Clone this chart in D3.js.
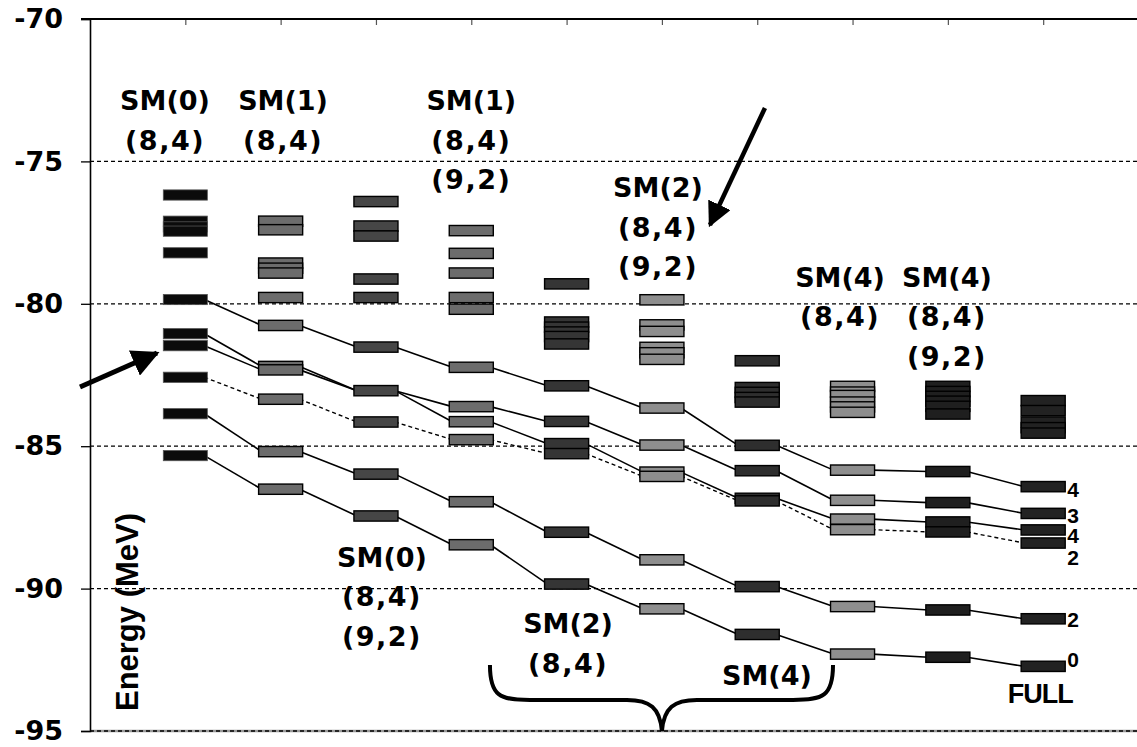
<!DOCTYPE html>
<html><head><meta charset="utf-8">
<script src="https://cdn.jsdelivr.net/npm/d3@7"></script>
<style>
html,body{margin:0;padding:0;background:#fff;}
svg text{font-family:"DejaVu Sans",sans-serif;font-weight:bold;fill:#000;}
</style></head>
<body>
<script>
// ---------- data ----------
const columns = ["SM(0) (8,4)","SM(1) (8,4)","SM(0) (8,4)(9,2)","SM(1) (8,4)(9,2)","SM(2) (8,4)","SM(2) (8,4)(9,2)","SM(4) (8,4)","SM(4) (8,4)","SM(4) (8,4)(9,2)","FULL"];
const levels0 = [-76.18,-77.1,-77.3,-77.45,-78.21,-79.85,-81.05,-81.47,-82.58,-83.86,-85.33];
const levels1 = [-77.1,-77.4,-78.57,-78.75,-78.92,-79.78,-80.76,-82.2,-82.32,-83.35,-85.19,-86.51];
const levels2 = [-76.41,-77.27,-77.62,-79.13,-79.78,-81.52,-83.05,-84.15,-85.98,-87.45];
const levels3 = [-77.43,-78.23,-78.92,-79.78,-80.19,-82.23,-83.61,-84.14,-84.77,-86.95,-88.46];
const levels4 = [-79.3,-80.64,-80.82,-80.99,-81.15,-81.41,-82.88,-84.13,-84.91,-85.26,-88.02,-89.84];
const levels5 = [-79.86,-80.74,-80.97,-81.53,-81.72,-81.95,-83.66,-84.96,-85.91,-86.06,-88.99,-90.71];
const levels6 = [-82.0,-82.94,-83.11,-83.29,-83.45,-84.97,-85.86,-86.83,-86.92,-89.93,-91.61];
const levels7 = [-82.9,-83.1,-83.22,-83.45,-83.62,-83.81,-85.84,-86.9,-87.56,-87.93,-90.63,-92.3];
const levels8 = [-82.9,-83.08,-83.25,-83.42,-83.6,-83.87,-85.89,-86.98,-87.66,-88.01,-90.75,-92.41];
const levels9 = [-83.4,-83.75,-84.15,-84.35,-84.54,-86.42,-87.36,-87.94,-88.4,-91.06,-92.73];
const columnLevels = [levels0,levels1,levels2,levels3,levels4,levels5,levels6,levels7,levels8,levels9];

// correlated states followed across the truncations (one value per column)
const chain4a = [-79.85,-80.76,-81.52,-82.23,-82.88,-83.66,-84.97,-85.84,-85.89,-86.42];
const chain3  = [-81.05,-82.2,-83.05,-83.61,-84.13,-84.96,-85.86,-86.9,-86.98,-87.36];
const chain4b = [-81.47,-82.32,-83.05,-84.14,-84.91,-85.91,-86.83,-87.56,-87.66,-87.94];
const chain2b = [-82.58,-83.35,-84.15,-84.77,-85.26,-86.06,-86.92,-87.93,-88.01,-88.4];
const chain2a = [-83.86,-85.19,-85.98,-86.95,-88.02,-88.99,-89.93,-90.63,-90.75,-91.06];
const chain0  = [-85.33,-86.51,-87.45,-88.46,-89.84,-90.71,-91.61,-92.3,-92.41,-92.73];
const solidChains = [chain4a,chain3,chain4b,chain2a,chain0];
const dashedChains = [chain2b];

const spinLabels = ["4","3","4","2","2","0"];
const spinLabelE = [-86.78,-87.70,-88.40,-89.17,-91.35,-92.75];

const yTicks = [-70,-75,-80,-85,-90,-95];
const xTicks = [1,2,3,4,5,6,7,8,9,10];

// text annotations: [x (column units), energy of first baseline, lines]
const annotations = [
  [0.787,-73.2,["SM(0)","(8,4)"]],
  [2.025,-73.2,["SM(1)","(8,4)"]],
  [4.0,-73.2,["SM(1)","(8,4)","(9,2)"]],
  [5.959,-76.25,["SM(2)","(8,4)","(9,2)"]],
  [7.869,-79.41,["SM(4)","(8,4)"]],
  [8.99,-79.41,["SM(4)","(8,4)","(9,2)"]],
  [3.063,-89.24,["SM(0)","(8,4)","(9,2)"]],
  [5.015,-91.56,["SM(2)","(8,4)"]],
  [7.102,-93.385,["SM(4)"]],
];
const fullLabel = [9.969,-94.02,"FULL"];
const arrows = [ [[-0.105,-82.92],[0.703,-81.73]], [[7.081,-73.125],[6.504,-77.233]] ];
const brace = {x0:4.196, x1:7.795, xm:6.0, eTop:-92.68, eBar:-93.91, eTip:-95};

// ---------- styles ----------
const fills = ["#0b0b0b","#6c6c6c","#464646","#6c6c6c","#353535","#8e8e8e","#2e2e2e","#8e8e8e","#1f1f1f","#222222"];
const W = 1137, H = 747;
const barW = 0.462, barH = 0.36;

const svg = d3.select("body").append("svg").attr("width",W).attr("height",H);
const x = d3.scaleLinear().domain([0,11]).range([90,1138.5]);
const y = d3.scaleLinear().domain([-95,-70]).range([731,19]);

// gridlines
svg.append("g").selectAll("line").data([-75,-80,-85,-90]).join("line")
  .attr("x1",x(0)).attr("x2",W).attr("y1",d=>y(d)).attr("y2",d=>y(d))
  .attr("stroke","#000").attr("stroke-width",1.3).attr("stroke-dasharray","4,3");
// bottom line
svg.append("line").attr("x1",x(0)).attr("x2",W).attr("y1",y(-95)).attr("y2",y(-95))
  .attr("stroke","#999").attr("stroke-width",2.5);
svg.append("line").attr("x1",x(0)).attr("x2",W).attr("y1",y(-95)).attr("y2",y(-95))
  .attr("stroke","#000").attr("stroke-width",1.3).attr("stroke-dasharray","4,3");

// y axis
const yAxis = svg.append("g").attr("transform",`translate(${x(0)},0)`)
  .call(d3.axisLeft(y).tickValues(yTicks).tickSize(9).tickPadding(18).tickFormat(d=>String(d)));
yAxis.select(".domain").attr("stroke","#000").attr("stroke-width",1.6);
yAxis.selectAll(".tick line").attr("stroke","#000").attr("stroke-width",1.3);
yAxis.selectAll(".tick text").style("font-size","27px")
  .style("font-family","DejaVu Sans, sans-serif").style("font-weight","bold").attr("fill","#000");

// top x axis (ticks pointing into the plot)
const xAxis = svg.append("g").attr("transform",`translate(0,${y(-70)})`)
  .call(d3.axisBottom(x).tickValues(xTicks).tickSize(6).tickFormat(""));
xAxis.select(".domain").remove();
xAxis.selectAll(".tick line").attr("stroke","#555").attr("stroke-width",1.2);
svg.append("line").attr("x1",x(0)-9).attr("x2",W).attr("y1",y(-70)).attr("y2",y(-70))
  .attr("stroke","#000").attr("stroke-width",2.2);

// connecting lines (bar right edge -> next bar left edge)
function segs(chain){
  const out=[];
  for(let i=0;i<chain.length-1;i++){
    out.push([x(i+1)+x(barW/2)-x(0)-3, y(chain[i]), x(i+2)-(x(barW/2)-x(0))+3, y(chain[i+1])]);
  }
  return out;
}
const lg = svg.append("g");
solidChains.forEach(c=>{
  lg.selectAll(null).data(segs(c)).join("line")
    .attr("x1",d=>d[0]).attr("y1",d=>d[1]).attr("x2",d=>d[2]).attr("y2",d=>d[3])
    .attr("stroke","#000").attr("stroke-width",1.6);
});
dashedChains.forEach(c=>{
  lg.selectAll(null).data(segs(c)).join("line")
    .attr("x1",d=>d[0]).attr("y1",d=>d[1]).attr("x2",d=>d[2]).attr("y2",d=>d[3])
    .attr("stroke","#000").attr("stroke-width",1.4).attr("stroke-dasharray","4,3");
});

// level bars
const bw = x(barW)-x(0);
const bh = y(-95)-y(-95+barH);
columnLevels.forEach((lv,i)=>{
  svg.append("g").selectAll("rect").data(lv).join("rect")
    .attr("x",x(i+1)-bw/2).attr("y",d=>y(d)-bh/2)
    .attr("width",bw).attr("height",bh)
    .attr("fill",fills[i])
    .attr("stroke",i===0?"#555":"#000").attr("stroke-width",i===0?0.8:1.4);
});

// annotations
annotations.forEach(a=>{
  const t = svg.append("text").attr("text-anchor","middle")
    .attr("x",x(a[0])).attr("y",y(a[1]))
    .style("font-size","27px");
  a[2].forEach((s,k)=>{
    t.append("tspan").attr("x",x(a[0])).attr("y",y(a[1])+k*39.5)
      .style("letter-spacing", k===0?"0px":"1.5px").text(s);
  });
});
svg.append("text").attr("x",x(fullLabel[0])).attr("y",y(fullLabel[1]))
  .attr("text-anchor","middle").style("font-size","27px").style("letter-spacing","-1px")
  .style("font-family","Liberation Sans, Arial, sans-serif")
  .text(fullLabel[2]);

// spin labels
svg.append("g").selectAll("text").data(spinLabels).join("text")
  .attr("x",x(10)+bw/2+2).attr("y",(d,i)=>y(spinLabelE[i]))
  .style("font-family","Liberation Sans, Arial, sans-serif")
  .style("font-size","21px").text(d=>d);

// y axis title
svg.append("text").attr("transform",`translate(138,612) rotate(-90)`)
  .attr("text-anchor","middle").style("font-size","31px")
  .style("font-family","Liberation Sans, Arial, sans-serif").text("Energy (MeV)");

// arrows
svg.append("defs").append("marker").attr("id","ah").attr("viewBox","0 0 10 10")
  .attr("refX",9).attr("refY",5).attr("markerWidth",5.5).attr("markerHeight",5.5)
  .attr("markerUnits","strokeWidth").attr("orient","auto")
  .append("path").attr("d","M0,0 L10,5 L0,10 z").attr("fill","#000");
arrows.forEach((a,i)=>{
  svg.append("line").attr("x1",x(a[0][0])).attr("y1",y(a[0][1]))
    .attr("x2",x(a[1][0])).attr("y2",y(a[1][1]))
    .attr("stroke","#000").attr("stroke-width",i===0?5:4.5)
    .attr("marker-end","url(#ah)");
});

// brace
const bp = d3.path();
const X0=x(brace.x0), X1=x(brace.x1), XM=x(brace.xm);
const YT=y(brace.eTop), YB=y(brace.eBar), YP=y(brace.eTip);
bp.moveTo(X0,YT);
bp.bezierCurveTo(X0,YB-4, X0+10,YB, X0+40,YB);
bp.lineTo(XM-35,YB);
bp.bezierCurveTo(XM-12,YB, XM-2,YB+8, XM,YP);
bp.bezierCurveTo(XM+2,YB+8, XM+12,YB, XM+35,YB);
bp.lineTo(X1-40,YB);
bp.bezierCurveTo(X1-10,YB, X1,YB-4, X1,YT);
svg.append("path").attr("d",bp.toString()).attr("fill","none")
  .attr("stroke","#000").attr("stroke-width",4);
</script>
</body></html>
